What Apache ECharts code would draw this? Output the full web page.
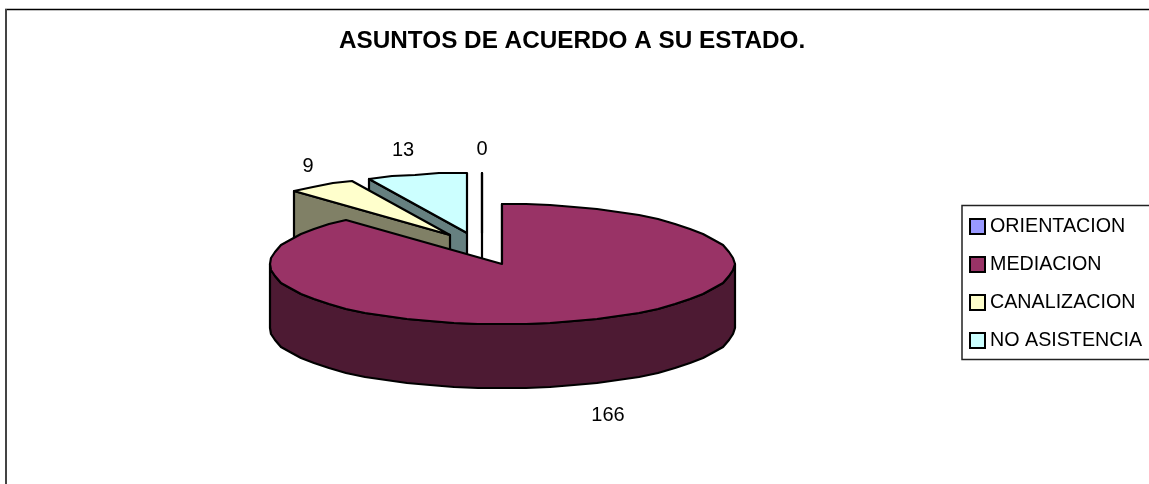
<!DOCTYPE html>
<html><head><meta charset="utf-8">
<style>html,body{margin:0;padding:0;background:#fff}#c{width:1149px;height:484px}</style>
<script src="https://cdn.jsdelivr.net/npm/echarts@6/dist/echarts.min.js"></script>
</head><body><div id="c"></div>
<script>
const categories = ['ORIENTACION', 'MEDIACION', 'CANALIZACION', 'NO ASISTENCIA'];
const values = [0, 166, 9, 13];
const topColors = ['#9999FF', '#993366', '#FFFFCC', '#CCFFFF'];
const sideColors = ['#4D4D80', '#4D1A33', '#808066', '#668080'];
// presentation only: exploded pie projection
const pie = {cx: 502, cy: 264, rx: 232.5, ry: 60, depth: 64, step: 6};
const explode = [[-20, -31], [0, 0], [-52, -29], [-35, -31]];
const labelShift = [[0, -24], [22, 31], [-14, -19], [-14, -24]];
const order = [1, 4, 3, 2];

const total = values.reduce((a, b) => a + b, 0);
function startAngle(i) { let s = 0; for (let k = 0; k < i; k++) s += values[k]; return s / total * 360; }

function rim(a, ox, oy) {
  const r = a * Math.PI / 180;
  return [Math.round(pie.cx + ox + pie.rx * Math.sin(r)), Math.round(pie.cy + oy - pie.ry * Math.cos(r))];
}
function arc(a0, a1, ox, oy) {
  const pts = [];
  for (let a = a0; a < a1; a += pie.step) pts.push(rim(a, ox, oy));
  pts.push(rim(a1, ox, oy));
  return pts;
}
function down(pts) { return pts.map(p => [p[0], p[1] + pie.depth]); }
const edge = {stroke: '#000', lineWidth: 2.2, lineJoin: 'round'};

function renderSlice(i) {
  return function (params, api) {
    const v = api.value(0);
    const a0 = startAngle(i), a1 = a0 + v / total * 360;
    const [ox, oy] = explode[i];
    const apex = [pie.cx + ox, pie.cy + oy];
    const children = [];
    const radial = [apex, rim(a0, ox, oy)];
    children.push({type: 'polygon', shape: {points: radial.concat(down(radial).reverse())},
      style: Object.assign({fill: sideColors[i]}, edge)});
    const f0 = Math.max(a0, 90), f1 = Math.min(a1, 270);
    if (f1 > f0) {
      const front = arc(f0, f1, ox, oy);
      children.push({type: 'polygon', shape: {points: front.concat(down(front).reverse())},
        style: Object.assign({fill: sideColors[i]}, edge)});
    }
    children.push({type: 'polygon', shape: {points: [apex].concat(arc(a0, a1, ox, oy))},
      style: Object.assign({fill: topColors[i]}, edge)});
    const mid = (a0 + a1) / 2, m = rim(mid, ox, oy);
    const inFront = mid > 90 && mid < 270;
    children.push({type: 'text', z2: 100, style: {
      text: String(v), x: m[0] + labelShift[i][0], y: m[1] + labelShift[i][1] + (inFront ? pie.depth : 0),
      fill: '#000', font: '20px "Liberation Sans", Arial, sans-serif', align: 'center', verticalAlign: 'middle'}});
    return {type: 'group', children};
  };
}

const chart = echarts.init(document.getElementById('c'), null, {renderer: 'canvas'});
chart.setOption({
  animation: false,
  backgroundColor: '#fff',
  color: topColors,
  title: {text: 'ASUNTOS DE ACUERDO A SU ESTADO.', left: 334, top: 24, textAlign: 'left',
    textStyle: {fontFamily: '"Liberation Sans", Arial, sans-serif', fontWeight: 'bold', fontSize: 24.3, color: '#000'}},
  legend: {data: categories, orient: 'vertical', left: 969, top: 211, padding: 0, itemWidth: 15, itemHeight: 15, itemGap: 7,
    icon: 'rect', selectedMode: false,
    itemStyle: {borderColor: '#000', borderWidth: 2},
    textStyle: {fontFamily: '"Liberation Sans", Arial, sans-serif', fontSize: 19.7, color: '#000', lineHeight: 22, padding: [0, 0, 9, 0]}},
  graphic: [
    {type: 'line', z: -1, shape: {x1: 5, y1: 9.5, x2: 1149, y2: 9.5}, style: {stroke: '#000', lineWidth: 1.5}},
    {type: 'line', z: -1, shape: {x1: 6, y1: 9, x2: 6, y2: 484}, style: {stroke: '#444', lineWidth: 2}},
    {type: 'rect', z: -1, shape: {x: 962, y: 205.5, width: 200, height: 154}, style: {fill: '#fff', stroke: '#222', lineWidth: 1.5}}
  ],
  series: categories.map((name, i) => ({
    type: 'custom', name, coordinateSystem: 'none', z: order[i], silent: true,
    itemStyle: {color: topColors[i]},
    data: [[values[i]]],
    renderItem: renderSlice(i)
  }))
});
</script></body></html>
